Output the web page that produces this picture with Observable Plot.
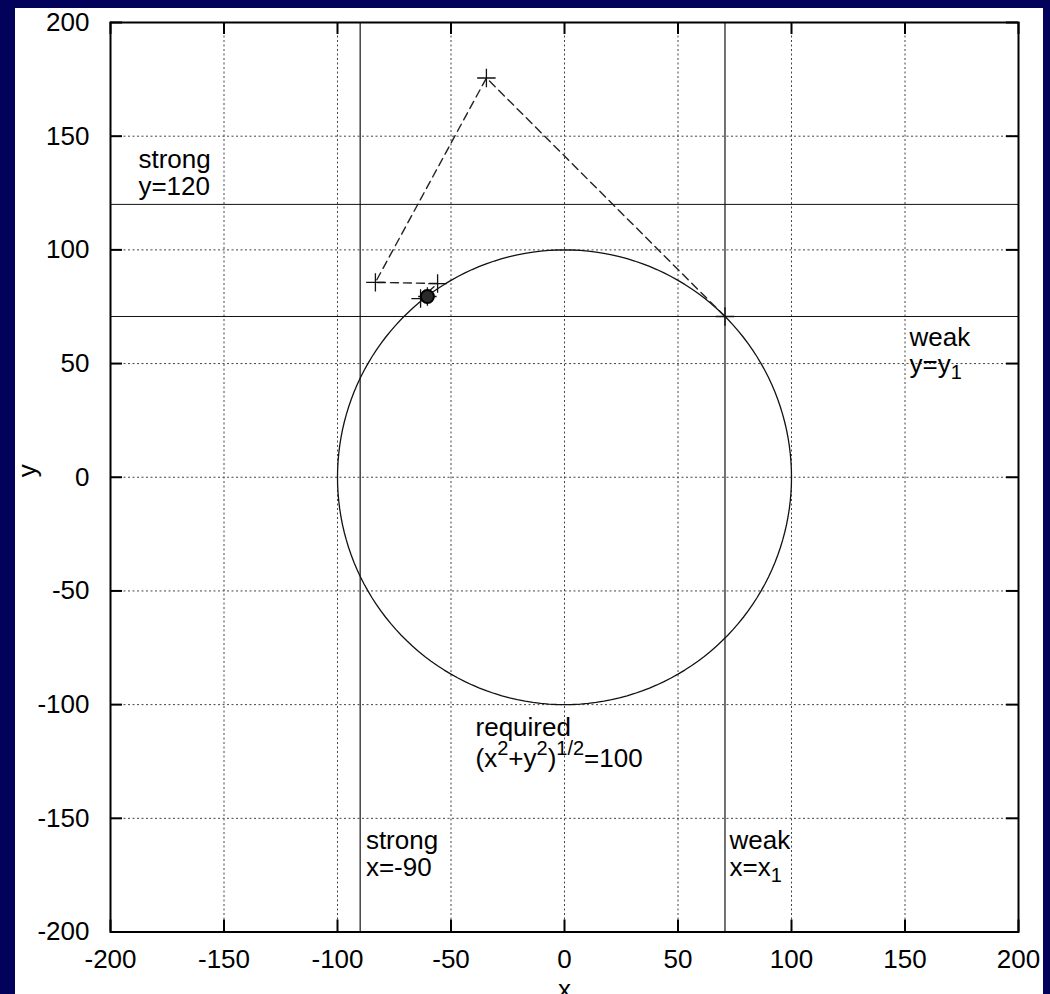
<!DOCTYPE html>
<html><head><meta charset="utf-8">
<script src="https://cdn.jsdelivr.net/npm/d3@7"></script>
<script src="https://cdn.jsdelivr.net/npm/@observablehq/plot@0.6"></script>
<style>
html,body{margin:0;padding:0;background:#02025b;overflow:hidden;width:1050px;height:994px}
#panel{position:absolute;left:15px;top:8px;width:1028px;height:986px;background:#fff;overflow:hidden}
</style></head><body><div id="panel"></div>
<script>
// ---- data ----
const xTicks = [-200, -150, -100, -50, 0, 50, 100, 150, 200];
const yTicks = [-200, -150, -100, -50, 0, 50, 100, 150, 200];
const gridValues = [-150, -100, -50, 0, 50, 100, 150];
const circleRadius = 100;                 // required: (x^2+y^2)^1/2 = 100
const verticalLines = [-90, 70.7];        // strong x=-90, weak x=x1
const horizontalLines = [120, 70.7];      // strong y=120, weak y=y1
const pathX = [70.7, -34.4, -83.3, -55.9, -63.4, -60.4];
const pathY = [70.7, 175.6, 85.7, 85.2, 78.6, 79.5];
const solutionX = [-60.4];
const solutionY = [79.5];
const labelText = ["strong\ny=120", "weak\ny=y_{1}", "strong\nx=-90", "weak\nx=x_{1}"];
const labelX = [-187.7, 152, -87.5, 72.7];
const labelY = [144.8, 66.5, -154.7, -154.7];
const reqText = ["required\n(x^{2}+y^{2})^{1/2}=100"];
const reqX = [-39.2];
const reqY = [-104];

// ---- derived tables ----
const pathPts = pathX.map((x, i) => ({x, y: pathY[i]}));
const solPts = solutionX.map((x, i) => ({x, y: solutionY[i]}));
const circlePts = d3.range(0, 361, 2).map(a => ({
  x: circleRadius * Math.cos(a * Math.PI / 180),
  y: circleRadius * Math.sin(a * Math.PI / 180)
}));
const labels = labelText.map((t, i) => ({t, x: labelX[i], y: labelY[i]}));
const reqLabels = reqText.map((t, i) => ({t, x: reqX[i], y: reqY[i]}));

const W = 1028, H = 986, mL = 95, mR = 25, mT = 14, mB = 62.5;
const frameH = H - mT - mB, frameW = W - mL - mR;
const tickLen = 12;
const FS = 26;
const fmt = d => String(d);

const chart = Plot.plot({
  width: W, height: H,
  marginLeft: mL, marginRight: mR, marginTop: mT, marginBottom: mB,
  style: {fontFamily: "'Liberation Sans', Arial, sans-serif", fontSize: FS + "px", background: "white", color: "black"},
  x: {domain: [-200, 200]},
  y: {domain: [-200, 200]},
  marks: [
    Plot.ruleX(gridValues, {x: d => d, stroke: "#444", strokeWidth: 1, strokeDasharray: "2,2.5"}),
    Plot.ruleY(gridValues, {y: d => d, stroke: "#444", strokeWidth: 1, strokeDasharray: "2,2.5"}),
    Plot.ruleX(verticalLines, {x: d => d, stroke: "#444", strokeWidth: 1.5}),
    Plot.ruleY(horizontalLines, {y: d => d, stroke: "#111", strokeWidth: 1}),
    Plot.line(circlePts, {x: "x", y: "y", stroke: "#111", strokeWidth: 1.3}),
    Plot.line(pathPts, {x: "x", y: "y", stroke: "#222", strokeWidth: 1.4, strokeDasharray: "8,5"}),
    Plot.dot(pathPts, {x: "x", y: "y", symbol: "plus", r: 6, stroke: "#111", strokeWidth: 1.3}),
    Plot.dot(solPts, {x: "x", y: "y", r: 6.5, fill: "#2a2a2a", stroke: "#000", strokeWidth: 2}),
    Plot.frame({stroke: "black", strokeWidth: 2}),
    // inward ticks on all four sides
    Plot.ruleX(xTicks, {x: d => d, insetTop: frameH - tickLen, stroke: "black", strokeWidth: 2}),
    Plot.ruleX(xTicks, {x: d => d, insetBottom: frameH - tickLen, stroke: "black", strokeWidth: 2}),
    Plot.ruleY(yTicks, {y: d => d, insetRight: frameW - tickLen, stroke: "black", strokeWidth: 2}),
    Plot.ruleY(yTicks, {y: d => d, insetLeft: frameW - tickLen, stroke: "black", strokeWidth: 2}),
    Plot.axisX({ticks: xTicks, tickFormat: fmt, tickSize: 0, tickPadding: 18, fontSize: FS, label: null}),
    Plot.axisY({ticks: yTicks, tickFormat: fmt, tickSize: 0, tickPadding: 21, fontSize: FS, label: null}),
    Plot.text(["x"], {frameAnchor: "bottom", dy: 66, lineAnchor: "bottom", fontSize: FS}),
    Plot.text(["y"], {frameAnchor: "left", dx: -83, rotate: -90, lineAnchor: "middle", fontSize: FS}),
    Plot.text(labels, {x: "x", y: "y", text: "t", textAnchor: "start", lineAnchor: "top", lineHeight: 1.06, fontSize: FS, fill: "black"}),
    Plot.text(reqLabels, {x: "x", y: "y", text: "t", textAnchor: "start", lineAnchor: "top", lineHeight: 1.2, fontSize: FS, fill: "black"})
  ]
});

// render ^{..} and _{..} as super/subscripts
function richify(svg) {
  svg.querySelectorAll("text").forEach(t => {
    const spans = t.querySelectorAll("tspan");
    const els = spans.length ? [...spans] : [t];
    els.forEach(el => {
      const s = el.textContent;
      if (!/[\^_]\{/.test(s)) return;
      const segs = [];
      const re = /([\^_])\{([^}]*)\}/g;
      let last = 0, m;
      while ((m = re.exec(s))) {
        if (m.index > last) segs.push({txt: s.slice(last, m.index), off: 0});
        segs.push({txt: m[2], off: m[1] === "^" ? -12 : 6, small: true});
        last = re.lastIndex;
      }
      if (last < s.length) segs.push({txt: s.slice(last), off: 0});
      el.textContent = "";
      let cur = 0;
      segs.forEach(sg => {
        const ts = document.createElementNS("http://www.w3.org/2000/svg", "tspan");
        if (sg.off !== cur) ts.setAttribute("dy", sg.off - cur);
        cur = sg.off;
        if (sg.small) ts.setAttribute("font-size", "20");
        ts.textContent = sg.txt;
        el.appendChild(ts);
      });
    });
  });
}
richify(chart);
document.getElementById("panel").appendChild(chart);
</script>
</body></html>
